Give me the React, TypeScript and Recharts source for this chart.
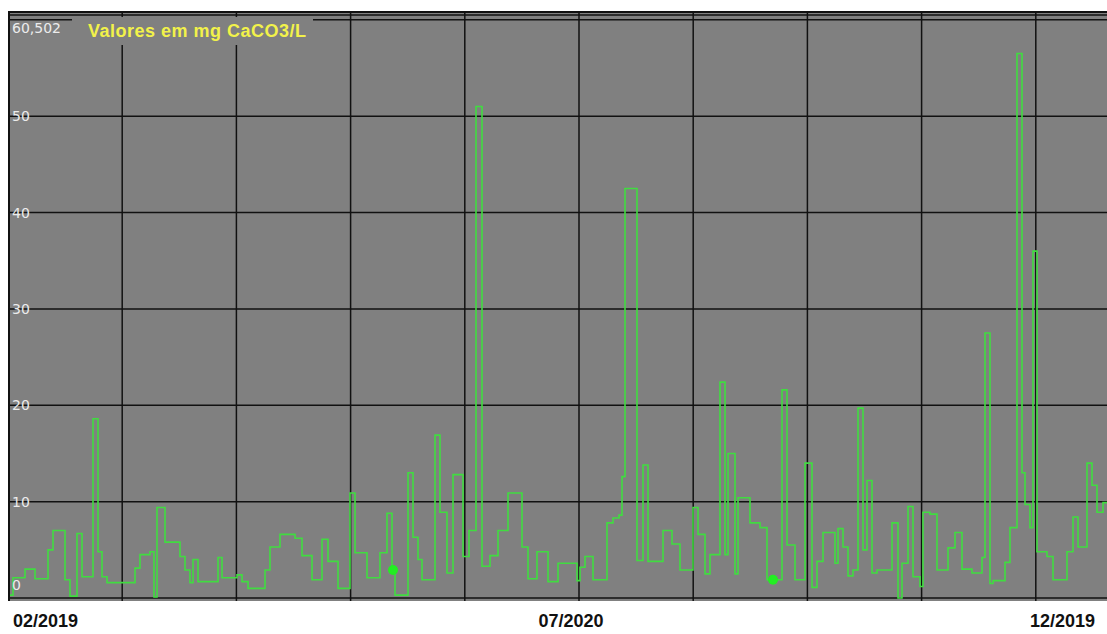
import { ComposedChart, Line, Scatter, XAxis, YAxis, CartesianGrid } from 'recharts'

// leituras: dia (posição no eixo) e valor em mg CaCO3/L
const dias = [
    2, 5, 17, 27, 40, 45, 57, 62, 69, 74, 85, 90, 94, 99, 127, 132, 142, 146, 149, 157,
    172, 177, 182, 185, 190, 210, 214, 229, 234, 240, 257, 262, 272, 287, 294, 304, 314, 320, 330, 342,
    347, 359, 372, 379, 384, 387, 400, 405, 410, 414, 427, 432, 439, 445, 455, 461, 468, 474, 482, 490,
    500, 514, 520, 529, 540, 550, 569, 572, 577, 585, 599, 605, 611, 614, 617, 629, 635, 640, 655, 664,
    672, 685, 690, 697, 702, 712, 717, 720, 727, 730, 742, 752, 759, 774, 779, 787, 797, 804, 809, 815,
    827, 830, 835, 840, 845, 850, 855, 859, 864, 869, 884, 890, 894, 900, 905, 912, 915, 922, 929, 940,
    947, 954, 964, 974, 977, 982, 985, 997, 1002, 1009, 1014, 1017, 1022, 1025, 1029, 1039, 1045, 1059, 1065, 1070,
    1079, 1084, 1089, 1095, 1099,
]
const valores = [
    0.3, 2.1, 3.0, 2.0, 5.0, 7.0, 1.9, 0.2, 6.7, 2.2, 18.6, 4.8, 2.2, 1.6, 3.1, 4.5, 4.8, 0.1, 9.4, 5.8,
    4.3, 2.9, 1.6, 4.0, 1.7, 4.2, 2.1, 2.4, 1.7, 1.0, 2.9, 5.3, 6.6, 6.2, 4.4, 1.9, 6.1, 3.8, 1.0, 10.9,
    4.7, 2.1, 4.7, 8.8, 2.9, 0.3, 13.0, 6.3, 4.0, 1.9, 16.9, 8.9, 2.6, 12.8, 4.3, 7.0, 51.0, 3.3, 4.4, 7.0,
    10.9, 5.3, 2.0, 4.8, 1.7, 3.6, 1.8, 3.2, 4.3, 1.9, 7.8, 8.3, 8.6, 12.6, 42.5, 3.9, 13.8, 3.8, 7.0, 5.6,
    2.9, 9.4, 6.6, 2.5, 4.5, 22.4, 4.5, 15.0, 2.5, 10.4, 7.8, 7.3, 1.9, 21.6, 5.5, 1.9, 14.0, 1.1, 3.8, 6.8,
    3.6, 7.2, 5.3, 2.3, 2.9, 19.7, 5.0, 12.2, 2.6, 2.9, 7.8, 0.0, 3.6, 9.5, 2.2, 1.2, 8.9, 8.7, 2.9, 5.2,
    6.8, 3.0, 2.6, 4.2, 27.5, 1.5, 1.8, 3.7, 7.3, 56.5, 13.0, 9.7, 7.3, 36.0, 4.8, 4.3, 1.9, 4.8, 8.4, 5.3,
    14.0, 11.7, 8.9, 9.9, 9.9,
]

const marcadoresDias = [385, 765]
const marcadoresValores = [2.9, 1.9]

const linhasGrade = [114.2, 228.4, 342.6, 456.8, 571, 685.2, 799.4, 913.6, 1027.8]
const ticksY = [0, 10, 20, 30, 40, 50, 60, 60.502]
const rotulosX = ['02/2019', '07/2020', '12/2019']
const posicoesRotulosX = [5, 563, 1087]

const dados = dias.map((dia, i) => ({ dia, valor: valores[i] }))
const marcadores = marcadoresDias.map((dia, i) => ({ dia, valor: marcadoresValores[i] }))

function TickY({ x, y, payload }: any) {
    const v = payload.value
    if (v === 60) return <g />
    let dy = 5
    if (v === 60.502) dy = 18
    if (v === 0) dy = -8
    const texto = v === 60.502 ? '60,502' : String(v)
    return (
        <text x={x} y={y + dy} fill="#ececec" fontSize={14} fontFamily="DejaVu Sans, Verdana, sans-serif" textAnchor="start">
            {texto}
        </text>
    )
}

function TickX({ x, y, index }: any) {
    const ancoras = ['start', 'middle', 'end']
    return (
        <text x={x} y={y + 26} fill="#111" fontSize={18} fontWeight="bold" fontFamily="Liberation Sans, Arial, sans-serif" textAnchor={ancoras[index]}>
            {rotulosX[index]}
        </text>
    )
}

function GraficoDureza() {
    return (
        <div style={{ position: 'absolute', left: 0, top: 0, width: 1107, height: 634, overflow: 'hidden', background: '#fff' }}>
            <ComposedChart width={1107} height={634} data={dados} margin={{ top: 12, right: 0, bottom: 0, left: 8 }}>
                <CartesianGrid fill="#808080" stroke="#111" strokeWidth={1.5} verticalValues={linhasGrade} horizontalValues={ticksY} />
                <XAxis
                    dataKey="dia"
                    type="number"
                    domain={[0, 1099]}
                    ticks={posicoesRotulosX}
                    interval={0}
                    allowDataOverflow
                    axisLine={false}
                    tickLine={false}
                    tickSize={0}
                    tickMargin={0}
                    height={33}
                    tick={<TickX />}
                />
                <YAxis
                    type="number"
                    domain={[-0.31, 60.81]}
                    ticks={ticksY}
                    interval={0}
                    allowDataOverflow
                    mirror
                    axisLine={false}
                    tickLine={false}
                    tickSize={0}
                    tickMargin={4}
                    tick={<TickY />}
                />
                <Line type="stepAfter" dataKey="valor" stroke="#40dc40" strokeWidth={1.6} dot={false} isAnimationActive={false} />
                <Scatter
                    data={marcadores}
                    dataKey="valor"
                    fill="#22ee22"
                    isAnimationActive={false}
                    shape={(p: any) => <circle cx={p.cx} cy={p.cy} r={5} fill="#22ee22" />}
                />
            </ComposedChart>
            <div style={{ position: 'absolute', left: 8, top: 11, width: 1099, height: 2, background: '#111' }} />
            <div style={{ position: 'absolute', left: 8, top: 11, width: 2, height: 590, background: '#111' }} />
            <div
                style={{
                    position: 'absolute',
                    left: 72,
                    top: 17,
                    width: 241,
                    height: 28,
                    background: '#808080',
                    color: '#f2f24a',
                    fontFamily: 'Liberation Sans, Arial, sans-serif',
                    fontWeight: 'bold',
                    fontSize: 18,
                    letterSpacing: 0.5,
                    lineHeight: '28px',
                    paddingLeft: 16,
                    boxSizing: 'border-box',
                    whiteSpace: 'nowrap',
                }}
            >
                Valores em mg CaCO3/L
            </div>
        </div>
    )
}

export default function App() {
    return <GraficoDureza />
}
